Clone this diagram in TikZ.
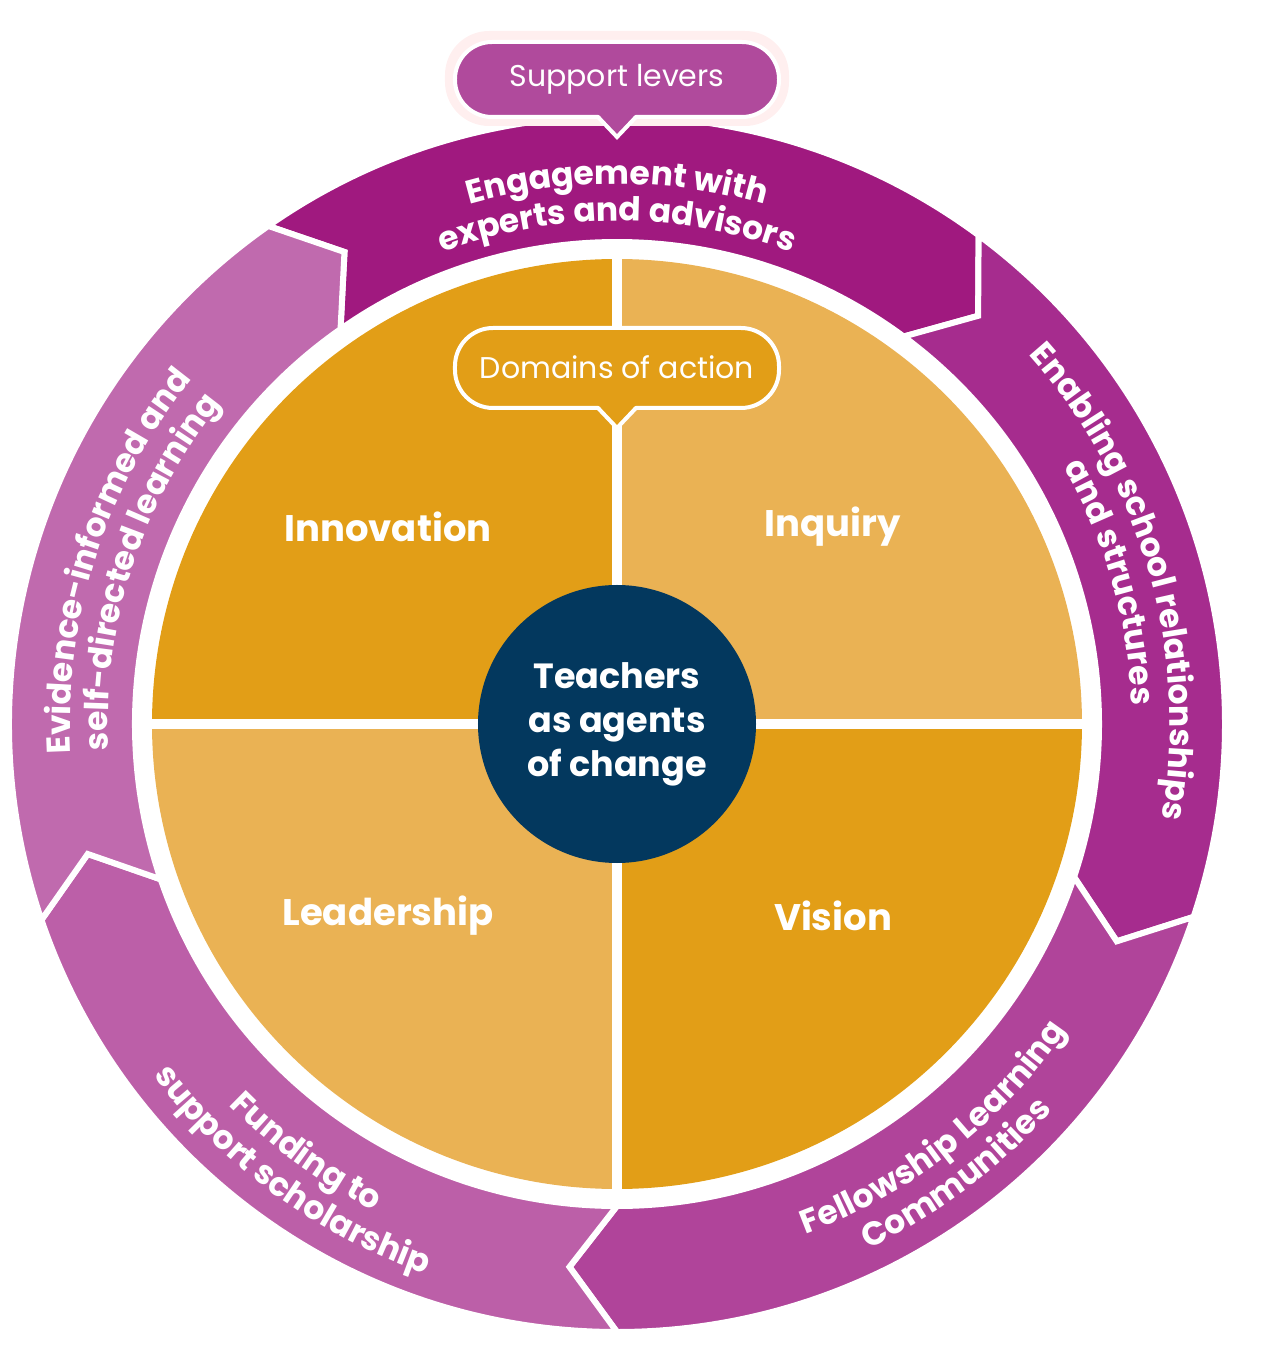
\documentclass[tikz,border=0pt]{standalone}
\usepackage{fontspec}
\setmainfont{Poppins}
\usetikzlibrary{decorations.text}
\definecolor{sA}{HTML}{A0197F}
\definecolor{sB}{HTML}{A62C8E}
\definecolor{sC}{HTML}{B0449A}
\definecolor{sD}{HTML}{BC5FA8}
\definecolor{sE}{HTML}{C06AAE}
\definecolor{qD}{HTML}{E29E17}
\definecolor{qL}{HTML}{EAB254}
\definecolor{navy}{HTML}{03385E}
\definecolor{bub}{HTML}{B04A9C}
\newcommand\segm[3]{\fill[#3,draw=white,line width=6pt,line join=miter]
 (#1:608pt) arc[start angle=#1,end angle=#2,radius=608pt] -- ({#2-5}:545pt) -- (#2:482pt)
 arc[start angle=#2,end angle=#1,radius=482pt] -- ({#1-5}:545pt) -- cycle;}
\newcommand\quadr[3]{\fill[#3] (0,0) -- (#1:465pt) arc[start angle=#1,end angle=#2,radius=465pt] -- cycle;}
\newcommand\ringf{\fontsize{33}{37}\selectfont\bfseries}
\newcommand\cwtext[3]{\path[decorate,decoration={text along path,text align=center,text color=white,text={|\ringf|#3}}]
 ({#1+50}:#2pt) arc[start angle={#1+50},end angle={#1-50},radius=#2pt];}
\newcommand\ccwtext[3]{\path[decorate,decoration={text along path,text align=center,text color=white,text={|\ringf|#3}}]
 ({#1-50}:#2pt) arc[start angle={#1-50},end angle={#1+50},radius=#2pt];}
\tikzset{qlabel/.style={text=white,font=\fontsize{37}{42}\selectfont\bfseries},
 bubtext/.style={text=white,font=\fontsize{30}{34}\selectfont}}
\begin{document}
\begin{tikzpicture}[x=1pt,y=1pt]
\useasboundingbox (-617,-627) rectangle (656,724);
\segm{125}{53.5}{sA}
\segm{53.5}{-18.5}{sB}
\segm{-18.5}{-90}{sC}
\segm{-90}{-161.2}{sD}
\segm{-161.2}{-235}{sE}
\quadr{90}{180}{qD}
\quadr{0}{90}{qL}
\quadr{180}{270}{qL}
\quadr{270}{360}{qD}
\draw[white,line width=10pt] (0,470) -- (0,-470) (-470,0) -- (470,0);
\node[circle,fill=navy,minimum size=278pt,inner sep=0pt] (ctr) at (0,0) {};
\node[text=white,align=center,font=\fontsize{35}{44}\selectfont\bfseries] (ctrt) at (0,0) {Teachers\\as agents\\of change};
\node[qlabel] (inn) at (-229,197) {Innovation};
\node[qlabel] (inq) at (216,197) {Inquiry};
\node[qlabel] (lead) at (-229,-192) {Leadership};
\node[qlabel] (vis) at (216,-192) {Vision};
\cwtext{90}{540}{Engagement with}
\cwtext{90}{503}{experts and advisors}
\cwtext{16}{553}{Enabling school relationships}
\cwtext{16}{515}{and structures}
\cwtext{162}{547}{Evidence-informed and}
\cwtext{162}{509}{self-directed learning}
\ccwtext{-52}{544}{Fellowship Learning}
\ccwtext{-53}{582}{Communities}
\ccwtext{-126}{544}{Funding to}
\ccwtext{-126}{582}{support scholarship}
\fill[pink!25,rounded corners=44pt] (-172,598) rectangle (172,693);
\draw[white,line width=4pt,fill=bub,rounded corners=37pt] (-162,607) rectangle (162,682);
\fill[bub] (-19,610) -- (0,589) -- (19,610) -- cycle;
\draw[white,line width=4pt,line join=miter] (-19,607) -- (0,587) -- (19,607);
\node[bubtext] (sl) at (0,645) {Support levers};
\draw[white,line width=4pt,fill=qD,rounded corners=38pt] (-162,316) rectangle (162,396);
\fill[qD] (-19,319) -- (0,298) -- (19,319) -- cycle;
\draw[white,line width=4pt,line join=miter] (-19,316) -- (0,296) -- (19,316);
\node[bubtext] (da) at (0,357) {Domains of action};
\end{tikzpicture}
\end{document}
